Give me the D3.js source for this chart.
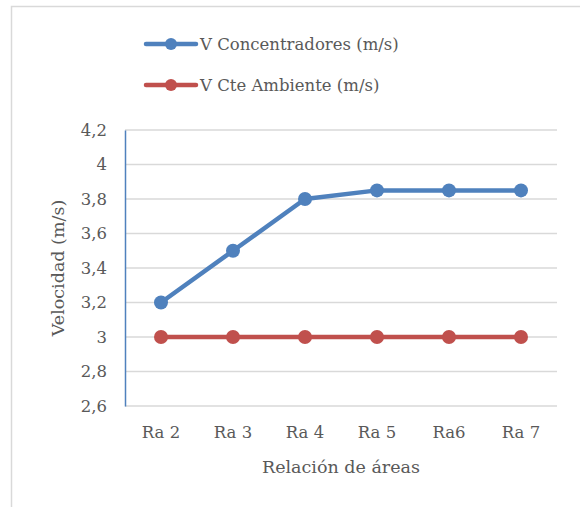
<!DOCTYPE html>
<html>
<head>
<meta charset="utf-8">
<script src="https://cdn.jsdelivr.net/npm/d3@7"></script>
<style>
  body { margin: 0; background: #fff; }
</style>
</head>
<body>
<div id="chart"></div>
<script>
// chart data
var categories = ["Ra 2", "Ra 3", "Ra 4", "Ra 5", "Ra6", "Ra 7"];
var concentradores = [3.2, 3.5, 3.8, 3.85, 3.85, 3.85];
var ambiente = [3, 3, 3, 3, 3, 3];
var seriesNames = ["V Concentradores (m/s)", "V Cte Ambiente (m/s)"];
var seriesColors = ["#4f81bd", "#c0504d"];
var yTicks = [2.6, 2.8, 3, 3.2, 3.4, 3.6, 3.8, 4, 4.2];

var font = "'DejaVu Serif', serif";
var width = 580, height = 507;
var margin = {top: 130, right: 23, bottom: 101, left: 125};

var svg = d3.select("#chart").append("svg")
  .attr("width", width)
  .attr("height", height)
  .attr("font-family", font);

// outer chart frame
svg.append("rect")
  .attr("x", 11.5).attr("y", 6.5)
  .attr("width", 600).attr("height", 600)
  .attr("fill", "none")
  .attr("stroke", "#d9d9d9")
  .attr("stroke-width", 1.5);

var x = d3.scaleBand()
  .domain(categories)
  .range([margin.left, width - margin.right]);

var y = d3.scaleLinear()
  .domain([2.6, 4.2])
  .range([height - margin.bottom, margin.top]);

// gridlines
svg.append("g").selectAll("line")
  .data(yTicks)
  .enter().append("line")
    .attr("x1", margin.left)
    .attr("x2", width - margin.right)
    .attr("y1", function(d) { return y(d); })
    .attr("y2", function(d) { return y(d); })
    .attr("stroke", "#d9d9d9")
    .attr("stroke-width", 1.3);

// y axis
var yAxis = d3.axisLeft(y)
  .tickValues(yTicks)
  .tickSize(0)
  .tickPadding(18)
  .tickFormat(function(d) { return String(d).replace(".", ","); });

var gy = svg.append("g")
  .attr("transform", "translate(" + margin.left + ",0)")
  .call(yAxis)
  .attr("font-family", font);
gy.select(".domain").attr("stroke", "#4f81bd").attr("stroke-width", 1.5);
gy.selectAll("text").attr("font-size", 16.5).attr("fill", "#595959");

// x axis labels
var xAxis = d3.axisBottom(x).tickSize(0).tickPadding(20);
var gx = svg.append("g")
  .attr("transform", "translate(0," + (height - margin.bottom) + ")")
  .call(xAxis)
  .attr("font-family", font);
gx.select(".domain").remove();
gx.selectAll("text").attr("font-size", 16.5).attr("fill", "#595959");

// axis titles
svg.append("text")
  .attr("transform", "translate(64," + (margin.top + (height - margin.bottom - margin.top) / 2) + ") rotate(-90)")
  .attr("text-anchor", "middle")
  .attr("font-size", 17.5)
  .attr("fill", "#595959")
  .text("Velocidad (m/s)");

svg.append("text")
  .attr("x", (margin.left + width - margin.right) / 2)
  .attr("y", 473)
  .attr("text-anchor", "middle")
  .attr("font-size", 17.5)
  .attr("fill", "#595959")
  .text("Relación de áreas");

// lines + markers
var line = d3.line()
  .x(function(d, i) { return x(categories[i]) + x.bandwidth() / 2; })
  .y(function(d) { return y(d); });

[concentradores, ambiente].forEach(function(vals, s) {
  svg.append("path")
    .datum(vals)
    .attr("d", line)
    .attr("fill", "none")
    .attr("stroke", seriesColors[s])
    .attr("stroke-width", 4.5)
    .attr("stroke-linejoin", "round");

  svg.append("g").selectAll("circle")
    .data(vals)
    .enter().append("circle")
      .attr("cx", function(d, i) { return x(categories[i]) + x.bandwidth() / 2; })
      .attr("cy", function(d) { return y(d); })
      .attr("r", 7)
      .attr("fill", seriesColors[s]);
});

// legend
var legend = svg.append("g").selectAll("g")
  .data(seriesNames)
  .enter().append("g")
    .attr("transform", function(d, i) { return "translate(146," + (44 + 41 * i) + ")"; });

legend.append("line")
  .attr("x1", 0).attr("x2", 50)
  .attr("stroke", function(d, i) { return seriesColors[i]; })
  .attr("stroke-width", 4.5)
  .attr("stroke-linecap", "round");
legend.append("circle")
  .attr("cx", 25).attr("r", 6)
  .attr("fill", function(d, i) { return seriesColors[i]; });
legend.append("text")
  .attr("x", 54)
  .attr("dy", "0.35em")
  .attr("font-size", 16.5)
  .attr("fill", "#595959")
  .text(function(d) { return d; });
</script>
</body>
</html>
